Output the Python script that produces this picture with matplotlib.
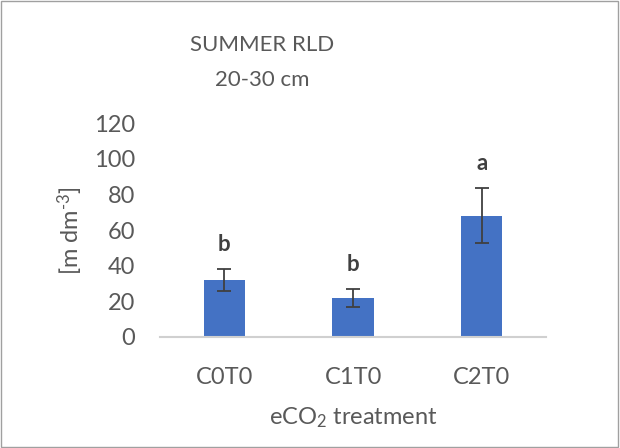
import numpy as np
import matplotlib
matplotlib.use("Agg")
from matplotlib import pyplot as plt
from matplotlib.patches import Rectangle

plt.rcParams['font.family'] = ['Lato', 'DejaVu Sans']
plt.rcParams['mathtext.fontset'] = 'custom'
plt.rcParams['mathtext.rm'] = 'Lato'
plt.rcParams['mathtext.it'] = 'Lato:italic'
plt.rcParams['mathtext.bf'] = 'Lato:bold'

treatments = ['C0T0', 'C1T0', 'C2T0']
rld_mean = [32, 22, 68]
rld_err = [6, 5, 15.5]
letters = ['b', 'b', 'a']

txt_col = '#595959'

fig = plt.figure(figsize=(6.2, 4.48), dpi=100)
ax = fig.add_axes([0.258, 0.248, 0.623, 0.477])

x = np.arange(len(treatments))
ax.bar(x, rld_mean, width=0.32, color='#4472C4', zorder=2)
ax.errorbar(x, rld_mean, yerr=rld_err, fmt='none', ecolor='#404040',
            elinewidth=1.3, capsize=5, capthick=1.3, zorder=3)

for xi, m, e, lab in zip(x, rld_mean, rld_err, letters):
    ax.annotate(lab, (xi, m + e), xytext=(0, 10), textcoords='offset points',
                ha='center', va='bottom', fontsize=16, fontweight='bold',
                color='#404040')

ax.set_xlim(-0.5, 2.5)
ax.set_ylim(0, 120)
ax.set_yticks(np.arange(0, 121, 20))
ax.set_xticks(x)
ax.set_xticklabels(treatments)
ax.tick_params(length=0, labelsize=17, colors=txt_col)
ax.tick_params(axis='x', pad=22)
ax.tick_params(axis='y', pad=18)
for s in ['top', 'right', 'left']:
    ax.spines[s].set_visible(False)
ax.spines['bottom'].set_color('#d0d0d0')
ax.spines['bottom'].set_linewidth(1.5)

ax.set_ylabel(r'[m dm$^{\text{-3}}$]', fontsize=17, color=txt_col, labelpad=6)
ax.set_xlabel('eCO$_2$ treatment', fontsize=17, color=txt_col, labelpad=12)

fig.text(0.423, 0.90, 'SUMMER RLD', ha='center', va='center', fontsize=16, color=txt_col)
fig.text(0.423, 0.822, '20-30 cm', ha='center', va='center', fontsize=16, color=txt_col)

fig.patches.append(Rectangle((0.002, 0.003), 0.995, 0.994, transform=fig.transFigure,
                             fill=False, edgecolor='#a0a0a0', linewidth=1))

fig.savefig('out.png', dpi=100)
